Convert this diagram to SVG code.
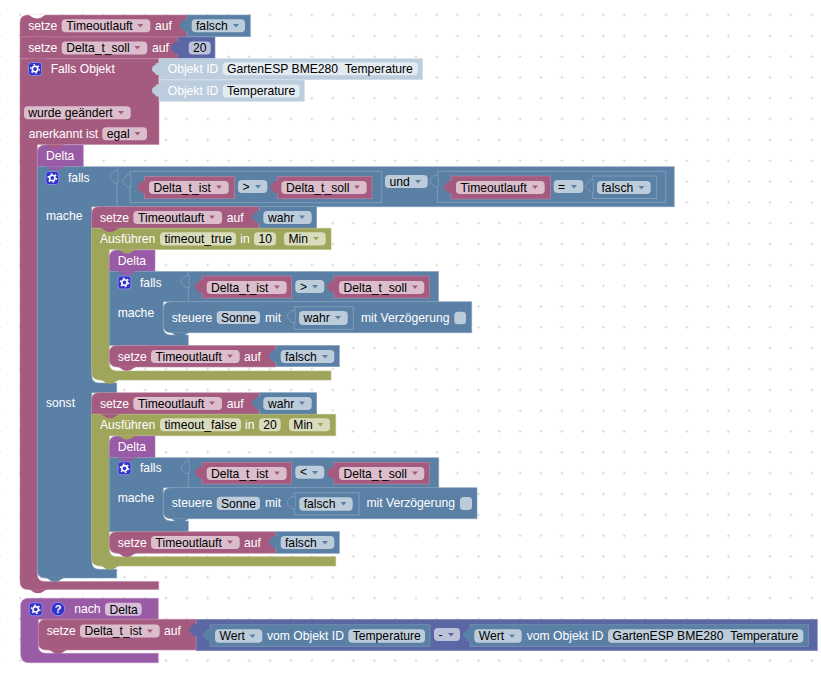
<svg xmlns="http://www.w3.org/2000/svg" width="821" height="673" viewBox="0 0 821 673">
<style>
text{font-family:"Liberation Sans",Arial,sans-serif;font-size:12.15px;white-space:pre}
.t{fill:#fff}.k{fill:#000}
.P{fill:#a55b80;stroke:#bd88a3;stroke-width:.6}
.B{fill:#5b80a5;stroke:#7f9dbb;stroke-width:.6}
.M{fill:#5b67a5;stroke:#7f88bb;stroke-width:.6}
.O{fill:#9fa55b;stroke:#b5ba80;stroke-width:.6}
.U{fill:#995ba5;stroke:#b384bd;stroke-width:.6}
.L{fill:#bccddd;stroke:#d0dce8;stroke-width:.6}
.fP{fill:#dbbdcc}.fB{fill:#bdccdb}.fO{fill:#d9dbbd}.fU{fill:#d6bddb}.fM{fill:#bdc2db}.fL{fill:#e4ebf1}
.aP{fill:#a55b80}.aB{fill:#5b80a5}.aO{fill:#9fa55b}.aM{fill:#5b67a5}
.nP{fill:#a55b80}.nB{fill:#5b80a5}.nO{fill:#9fa55b}.nU{fill:#995ba5}.nW{fill:#fff}
.o{fill:none;stroke:#7f9dbb;stroke-width:1}
.s{fill:#5b80a5;stroke:#7f9dbb;stroke-width:.8}
</style>
<defs>
<pattern id="grid" patternUnits="userSpaceOnUse" x="-11" y="4.5" width="20.83" height="20.83">
<path d="M8.9 10.4h3M10.4 8.9v3" stroke="#ddd" stroke-width="1" fill="none"/>
</pattern>
<path id="n" d="M-10 0c3 0 5 4 10 4s7-4 10-4z"/>
<path id="a" d="M-3-1.5h6l-3 3.5z"/>
<path id="tab" d="M1-1H-3Q-3 1-5 1.5Q-7 2-7 5Q-7 8-5 8.5Q-3 9-3 11H1Z"/>
<g id="gear">
<rect x=".5" y=".5" width="13" height="13" rx="3" fill="#3333cc" stroke="#8a8ae0"/>
<circle cx="7" cy="7" r="2.7" fill="none" stroke="#fff" stroke-width="1.6"/>
<circle cx="7" cy="7" r="4.2" fill="none" stroke="#fff" stroke-width="1.4" stroke-dasharray="1.7 2.7"/>
</g>
</defs>
<rect width="821" height="673" fill="#fff"/>
<rect width="821" height="673" fill="url(#grid)"/>

<g id="set-timeout-1">
<path class="P" d="M28 15H187V37H20V23Q20 15 28 15Z"/>
<rect class="B" x="187" y="15" width="63.3" height="21.7"/>
<use href="#tab" class="aB" x="187" y="20.5"/>
<text class="t" x="28.3" y="30">setze</text>
<rect class="fP" x="61.7" y="19.3" width="88.6" height="13" rx="4"/><text class="k" x="66.3" y="30">Timeoutlauft</text><use href="#a" class="aP" x="140.3" y="25.5"/>
<text class="t" x="155" y="30">auf</text>
<rect class="fB" x="191.7" y="19.3" width="53.3" height="13" rx="4"/><text class="k" x="196" y="30">falsch</text><use href="#a" class="aB" x="236" y="25.5"/>
</g>

<g id="set-delta-soll">
<path class="P" d="M20 37H178V58.7H20Z"/>
<rect class="M" x="178" y="37" width="37" height="21.7"/>
<use href="#tab" class="aM" x="178" y="42.5"/>
<text class="t" x="28.3" y="52">setze</text>
<rect class="fP" x="61.7" y="41.5" width="85.6" height="13" rx="4"/><text class="k" x="66.3" y="52">Delta_t_soll</text><use href="#a" class="aP" x="137.3" y="47.5"/>
<text class="t" x="152" y="52">auf</text>
<rect class="fM" x="188.7" y="41.5" width="22" height="13" rx="4"/><text class="k" x="193" y="52">20</text>
</g>

<g id="falls-objekt">
<path class="P" d="M20 58.7H159V144.5H37.3V574Q37.3 581.5 45 581.5H158.7V589.5H28Q20 589.5 20 581.5Z"/>
<use href="#gear" x="28" y="62"/>
<text class="t" x="50.7" y="73">Falls Objekt</text>
<rect class="fP" x="24" y="106.3" width="106.7" height="13" rx="4"/><text class="k" x="28.3" y="117">wurde geändert</text><use href="#a" class="aP" x="121" y="112.5"/>
<text class="t" x="28.7" y="137.7">anerkannt ist</text>
<rect class="fP" x="102.3" y="127.3" width="44.7" height="13" rx="4"/><text class="k" x="106.7" y="138">egal</text><use href="#a" class="aP" x="137.5" y="133.5"/>
</g>

<g id="objekt-id-1">
<rect class="L" x="159" y="58.7" width="263.7" height="21"/>
<use href="#tab" x="159" y="64" fill="#bccddd"/>
<text class="t" x="167.7" y="73">Objekt ID</text>
<rect class="fL" x="222.7" y="62.3" width="195" height="13" rx="4"/><text class="k" x="227" y="73">GartenESP BME280  Temperature</text>
</g>
<g id="objekt-id-2">
<rect class="L" x="159" y="80" width="145.3" height="21.3"/>
<use href="#tab" x="159" y="85.5" fill="#bccddd"/>
<text class="t" x="167.7" y="95">Objekt ID</text>
<rect class="fL" x="222.7" y="84.5" width="77" height="13" rx="4"/><text class="k" x="227" y="95">Temperature</text>
</g>

<g id="delta-1">
<path class="U" d="M45 145H83.3V166.7H37.3V153Q37.3 145 45 145Z"/>
<text class="t" x="46" y="160">Delta</text>
</g>

<g id="falls-1">
<path class="B" d="M37.3 166.7H674.3V206.7H91.7V375Q91.7 383 99 383H116.7V392.7H91.7V561Q91.7 569.3 99 569.3H116.7V578H45Q37.3 578 37.3 570Z"/>
<path class="o" d="M117 167V206"/>
<use href="#tab" class="s" x="117" y="172"/>
<use href="#gear" x="45.3" y="171"/>
<text class="t" x="68" y="182">falls</text>
<text class="t" x="46" y="220">mache</text>
<text class="t" x="46" y="406.7">sonst</text>
<rect class="o" x="130" y="171.3" width="251.7" height="31.4"/>
<use href="#tab" class="s" x="130" y="176"/>
<rect class="P" x="144.3" y="176.7" width="90.4" height="22"/><use href="#tab" class="aP" x="144.3" y="182"/>
<rect class="fP" x="149" y="181" width="79.7" height="13" rx="4"/><text class="k" x="153.5" y="191.7">Delta_t_ist</text><use href="#a" class="aP" x="219" y="187"/>
<rect class="fB" x="238" y="180" width="29.3" height="13" rx="4"/><text class="k" x="242.5" y="190.5">&gt;</text><use href="#a" class="aB" x="258" y="186.5"/>
<rect class="P" x="277.3" y="176.7" width="94.7" height="22"/><use href="#tab" class="aP" x="277.3" y="182"/>
<rect class="fP" x="281.3" y="181" width="85.4" height="13" rx="4"/><text class="k" x="286" y="191.7">Delta_t_soll</text><use href="#a" class="aP" x="357" y="187"/>
<rect class="fB" x="385" y="175" width="42.7" height="13" rx="4"/><text class="k" x="389.5" y="186">und</text><use href="#a" class="aB" x="418" y="181.5"/>
<rect class="o" x="437.3" y="171.3" width="228.4" height="31"/>
<use href="#tab" class="s" x="437.3" y="176"/>
<rect class="P" x="451" y="176" width="99.7" height="23"/><use href="#tab" class="aP" x="451" y="182"/>
<rect class="fP" x="456" y="181" width="88.7" height="13" rx="4"/><text class="k" x="460.5" y="191.7">Timeoutlauft</text><use href="#a" class="aP" x="535" y="187"/>
<rect class="fB" x="553.7" y="180" width="29.6" height="13" rx="4"/><text class="k" x="558" y="191">=</text><use href="#a" class="aB" x="574" y="186.5"/>
<rect class="o" x="592.7" y="176" width="64" height="22.5"/>
<use href="#tab" class="s" x="592.7" y="181"/>
<rect class="fB" x="597" y="181" width="53.7" height="13" rx="4"/><text class="k" x="601.5" y="191.7">falsch</text><use href="#a" class="aB" x="641.5" y="187.5"/>
</g>

<g id="set-timeout-true">
<path class="P" d="M99 206.7H259.3V228.3H91.7V214Q91.7 206.7 99 206.7Z"/>
<rect class="B" x="259.3" y="206.7" width="57.4" height="21.6"/>
<use href="#tab" class="aB" x="259.3" y="212"/>
<text class="t" x="100" y="222">setze</text>
<rect class="fP" x="133.3" y="211" width="88.7" height="13" rx="4"/><text class="k" x="138" y="222">Timeoutlauft</text><use href="#a" class="aP" x="212" y="217"/>
<text class="t" x="226.7" y="222">auf</text>
<rect class="fB" x="263.3" y="211" width="48.4" height="13" rx="4"/><text class="k" x="268" y="222">wahr</text><use href="#a" class="aB" x="302" y="217"/>
</g>

<g id="timeout-true">
<path class="O" d="M91.7 228.3H331V249.6H109.3V363Q109.3 371 117 371H331V380H100Q91.7 380 91.7 372Z"/>
<text class="t" x="100" y="243">Ausführen</text>
<rect class="fO" x="160" y="232.3" width="76" height="13.2" rx="4"/><text class="k" x="164.5" y="243.2">timeout_true</text>
<text class="t" x="240.3" y="243">in</text>
<rect class="fO" x="254" y="232.3" width="22" height="13.2" rx="4"/><text class="k" x="258.5" y="243.2">10</text>
<rect class="fO" x="284" y="232.3" width="41.7" height="13.2" rx="4"/><text class="k" x="288.5" y="243.2">Min</text><use href="#a" class="aO" x="316" y="238.5"/>
</g>

<g id="delta-2">
<path class="U" d="M117 250H155V271.5H109.3V258Q109.3 250 117 250Z"/>
<text class="t" x="117.7" y="265">Delta</text>
</g>

<g id="falls-2">
<path class="B" d="M109.3 271.5H438.5V301.7H163.3V327Q163.3 335 171 335H188.3V345.5H109.3Z"/>
<path class="o" d="M188.3 272V301"/>
<use href="#tab" class="s" x="188.3" y="276.5"/>
<use href="#gear" x="117.5" y="275.5"/>
<text class="t" x="140" y="287">falls</text>
<text class="t" x="117.7" y="316.7">mache</text>
<rect class="P" x="202" y="276" width="89.7" height="22"/><use href="#tab" class="aP" x="202" y="281.5"/>
<rect class="fP" x="206.7" y="281" width="80" height="13" rx="4"/><text class="k" x="211" y="292">Delta_t_ist</text><use href="#a" class="aP" x="277" y="287"/>
<rect class="fB" x="295.3" y="280" width="29" height="13" rx="4"/><text class="k" x="300" y="290.5">&gt;</text><use href="#a" class="aB" x="315" y="286.5"/>
<rect class="P" x="334" y="276" width="95.3" height="22"/><use href="#tab" class="aP" x="334" y="281.5"/>
<rect class="fP" x="339" y="281" width="85.3" height="13" rx="4"/><text class="k" x="343.5" y="292">Delta_t_soll</text><use href="#a" class="aP" x="415" y="287"/>
</g>

<g id="steuere-1">
<path class="B" d="M171 301.7H471.7V332.7H171Q163.3 332.7 163.3 325V309.5Q163.3 301.7 171 301.7Z"/>
<text class="t" x="171.7" y="321.7">steuere</text>
<rect class="fB" x="216.7" y="311" width="43.3" height="13" rx="4"/><text class="k" x="221" y="322">Sonne</text>
<text class="t" x="265" y="321.7">mit</text>
<rect class="o" x="294.3" y="306.7" width="59" height="22.6"/>
<use href="#tab" class="s" x="294.3" y="311.5"/>
<rect class="fB" x="299" y="311" width="48.7" height="14" rx="4"/><text class="k" x="303.5" y="322.3">wahr</text><use href="#a" class="aB" x="338" y="317.5"/>
<text class="t" x="361" y="321.7">mit Verzögerung</text>
<rect class="fB" x="454.3" y="311.7" width="11.7" height="12.6" rx="3.5"/>
</g>

<g id="set-timeout-falsch-1">
<path class="P" d="M117 345.5H276V367H117Q109.3 367 109.3 359V353Q109.3 345.5 117 345.5Z"/>
<rect class="B" x="276" y="345.5" width="63.3" height="21.2"/>
<use href="#tab" class="aB" x="276" y="351"/>
<text class="t" x="117.7" y="361">setze</text>
<rect class="fP" x="151" y="350" width="88.7" height="13" rx="4"/><text class="k" x="155.5" y="361">Timeoutlauft</text><use href="#a" class="aP" x="230" y="356"/>
<text class="t" x="244" y="361">auf</text>
<rect class="fB" x="280.7" y="350" width="53.6" height="13" rx="4"/><text class="k" x="285" y="361">falsch</text><use href="#a" class="aB" x="325" y="356.5"/>
</g>

<g id="set-timeout-wahr-2">
<path class="P" d="M99 392.7H259.3V414.3H91.7V400Q91.7 392.7 99 392.7Z"/>
<rect class="B" x="259.3" y="392.7" width="57.4" height="21.6"/>
<use href="#tab" class="aB" x="259.3" y="398"/>
<text class="t" x="100" y="407.5">setze</text>
<rect class="fP" x="133.3" y="397" width="88.7" height="13" rx="4"/><text class="k" x="138" y="407.8">Timeoutlauft</text><use href="#a" class="aP" x="212" y="403"/>
<text class="t" x="226.7" y="407.5">auf</text>
<rect class="fB" x="263.3" y="397" width="48.4" height="13" rx="4"/><text class="k" x="268" y="407.8">wahr</text><use href="#a" class="aB" x="302" y="403"/>
</g>

<g id="timeout-false">
<path class="O" d="M91.7 414.3H335.7V435.7H109.3V549Q109.3 556.7 117 556.7H335.7V566H100Q91.7 566 91.7 558Z"/>
<text class="t" x="100" y="429">Ausführen</text>
<rect class="fO" x="160" y="418.3" width="81" height="13" rx="4"/><text class="k" x="164.5" y="429.2">timeout_false</text>
<text class="t" x="245" y="429">in</text>
<rect class="fO" x="259" y="418.3" width="21.7" height="13" rx="4"/><text class="k" x="263.3" y="429.2">20</text>
<rect class="fO" x="289" y="418.3" width="41" height="13" rx="4"/><text class="k" x="293.3" y="429.2">Min</text><use href="#a" class="aO" x="320.5" y="424.5"/>
</g>

<g id="delta-3">
<path class="U" d="M117 436H155V457.7H109.3V444Q109.3 436 117 436Z"/>
<text class="t" x="117.7" y="451">Delta</text>
</g>

<g id="falls-3">
<path class="B" d="M109.3 457.7H438.7V487.7H163.3V513Q163.3 521 171 521H188.3V531.7H109.3Z"/>
<path class="o" d="M188.3 458V487"/>
<use href="#tab" class="s" x="188.3" y="462.5"/>
<use href="#gear" x="117.5" y="461.3"/>
<text class="t" x="140" y="471.7">falls</text>
<text class="t" x="117.7" y="501.7">mache</text>
<rect class="P" x="202" y="462.3" width="89.7" height="21.7"/><use href="#tab" class="aP" x="202" y="467.5"/>
<rect class="fP" x="206.7" y="467" width="80" height="13" rx="4"/><text class="k" x="211" y="477.8">Delta_t_ist</text><use href="#a" class="aP" x="277" y="473"/>
<rect class="fB" x="295.3" y="465.7" width="29" height="13" rx="4"/><text class="k" x="300" y="476">&lt;</text><use href="#a" class="aB" x="315" y="472.5"/>
<rect class="P" x="334" y="462.3" width="95.3" height="21.7"/><use href="#tab" class="aP" x="334" y="467.5"/>
<rect class="fP" x="339" y="467" width="85.3" height="13" rx="4"/><text class="k" x="343.5" y="477.8">Delta_t_soll</text><use href="#a" class="aP" x="415" y="473"/>
</g>

<g id="steuere-2">
<path class="B" d="M171 487.7H477V518.7H171Q163.3 518.7 163.3 511V495.5Q163.3 487.7 171 487.7Z"/>
<text class="t" x="171.7" y="507">steuere</text>
<rect class="fB" x="216.7" y="496.7" width="43.3" height="13.3" rx="4"/><text class="k" x="221" y="507.5">Sonne</text>
<text class="t" x="265" y="507">mit</text>
<rect class="o" x="294.3" y="492.7" width="64.7" height="22.3"/>
<use href="#tab" class="s" x="294.3" y="497.5"/>
<rect class="fB" x="299.3" y="497.3" width="53.4" height="13.4" rx="4"/><text class="k" x="303.7" y="508.3">falsch</text><use href="#a" class="aB" x="343.5" y="503.5"/>
<text class="t" x="366.5" y="507">mit Verzögerung</text>
<rect class="fB" x="460" y="497" width="12" height="13" rx="3.5"/>
</g>

<g id="set-timeout-falsch-2">
<path class="P" d="M117 531.7H276V553.3H117Q109.3 553.3 109.3 545V539Q109.3 531.7 117 531.7Z"/>
<rect class="B" x="276" y="531.7" width="63.3" height="21.6"/>
<use href="#tab" class="aB" x="276" y="537"/>
<text class="t" x="117.7" y="547">setze</text>
<rect class="fP" x="151" y="536" width="88.7" height="13" rx="4"/><text class="k" x="155.5" y="547">Timeoutlauft</text><use href="#a" class="aP" x="230" y="542"/>
<text class="t" x="244" y="547">auf</text>
<rect class="fB" x="280.7" y="536" width="53.6" height="13" rx="4"/><text class="k" x="285" y="547">falsch</text><use href="#a" class="aB" x="325" y="542.5"/>
</g>

<g id="nach-delta">
<path class="U" d="M28.7 598.3H158.3V619.3H38.3V646Q38.3 653.3 46 653.3H158.3V662.7H29Q20.7 662.7 20.7 654V606Q20.7 598.3 28.7 598.3Z"/>
<use href="#gear" x="28.7" y="602.3"/>
<circle cx="58" cy="609" r="6.8" fill="#3333cc" stroke="#8a8ae0"/>
<text x="58" y="613" text-anchor="middle" style="font-size:11px;font-weight:bold" class="t">?</text>
<text class="t" x="74.3" y="613">nach</text>
<rect class="fU" x="105" y="602.7" width="36.7" height="13" rx="4"/><text class="k" x="109.5" y="613.5">Delta</text>
</g>

<g id="set-delta-ist">
<path class="P" d="M46 619.3H196.3V650H46Q38.3 650 38.3 642V627Q38.3 619.3 46 619.3Z"/>
<text class="t" x="46.7" y="635">setze</text>
<rect class="fP" x="80" y="624.6" width="79.7" height="13" rx="4"/><text class="k" x="84.5" y="635.4">Delta_t_ist</text><use href="#a" class="aP" x="150" y="631"/>
<text class="t" x="164" y="635">auf</text>
</g>

<g id="minus">
<rect class="M" x="196.3" y="619.3" width="621" height="31.4"/>
<use href="#tab" class="aM" x="196.3" y="625"/>
<rect class="B" x="210" y="624.8" width="220" height="21.7"/><use href="#tab" class="aB" x="210" y="630"/>
<rect class="fB" x="215" y="629.3" width="47.3" height="13.4" rx="4"/><text class="k" x="219.5" y="640.2">Wert</text><use href="#a" class="aB" x="252.5" y="636"/>
<text class="t" x="267" y="640">vom Objekt ID</text>
<rect class="fB" x="348.3" y="629.3" width="76.7" height="13.4" rx="4"/><text class="k" x="352.7" y="640.2">Temperature</text>
<rect class="fM" x="434" y="628" width="26" height="13" rx="4"/><text class="k" x="438.5" y="639">-</text><use href="#a" class="aM" x="451" y="634.5"/>
<rect class="B" x="470" y="624.8" width="338.3" height="21.7"/><use href="#tab" class="aB" x="470" y="630"/>
<rect class="fB" x="474.3" y="629.3" width="47.4" height="13.4" rx="4"/><text class="k" x="478.7" y="640.2">Wert</text><use href="#a" class="aB" x="512" y="636"/>
<text class="t" x="526.7" y="640">vom Objekt ID</text>
<rect class="fB" x="608" y="629.3" width="195.3" height="13.4" rx="4"/><text class="k" x="612.5" y="640.2">GartenESP BME280  Temperature</text>
</g>

<g id="notches">
<use href="#n" class="nW" x="37" y="14.5"/>
<use href="#n" class="nP" x="37" y="37"/>
<use href="#n" class="nP" x="37" y="58.5"/>
<use href="#n" class="nP" x="55" y="144.5"/>
<use href="#n" class="nU" x="55" y="166.5"/>
<use href="#n" class="nP" x="110" y="228"/>
<use href="#n" class="nO" x="127" y="249.5"/>
<use href="#n" class="nU" x="127" y="271.3"/>
<use href="#n" class="nB" x="180" y="332.5"/>
<use href="#n" class="nP" x="127" y="366.7"/>
<use href="#n" class="nO" x="110" y="379.8"/>
<use href="#n" class="nP" x="110" y="414.2"/>
<use href="#n" class="nO" x="127" y="435.6"/>
<use href="#n" class="nU" x="127" y="457.5"/>
<use href="#n" class="nB" x="180" y="518.5"/>
<use href="#n" class="nP" x="127" y="553"/>
<use href="#n" class="nO" x="110" y="565.8"/>
<use href="#n" class="nB" x="55" y="577.8"/>
<use href="#n" class="nP" x="38" y="589.3"/>
<use href="#n" class="nP" x="58" y="649.8"/>
</g>
</svg>
